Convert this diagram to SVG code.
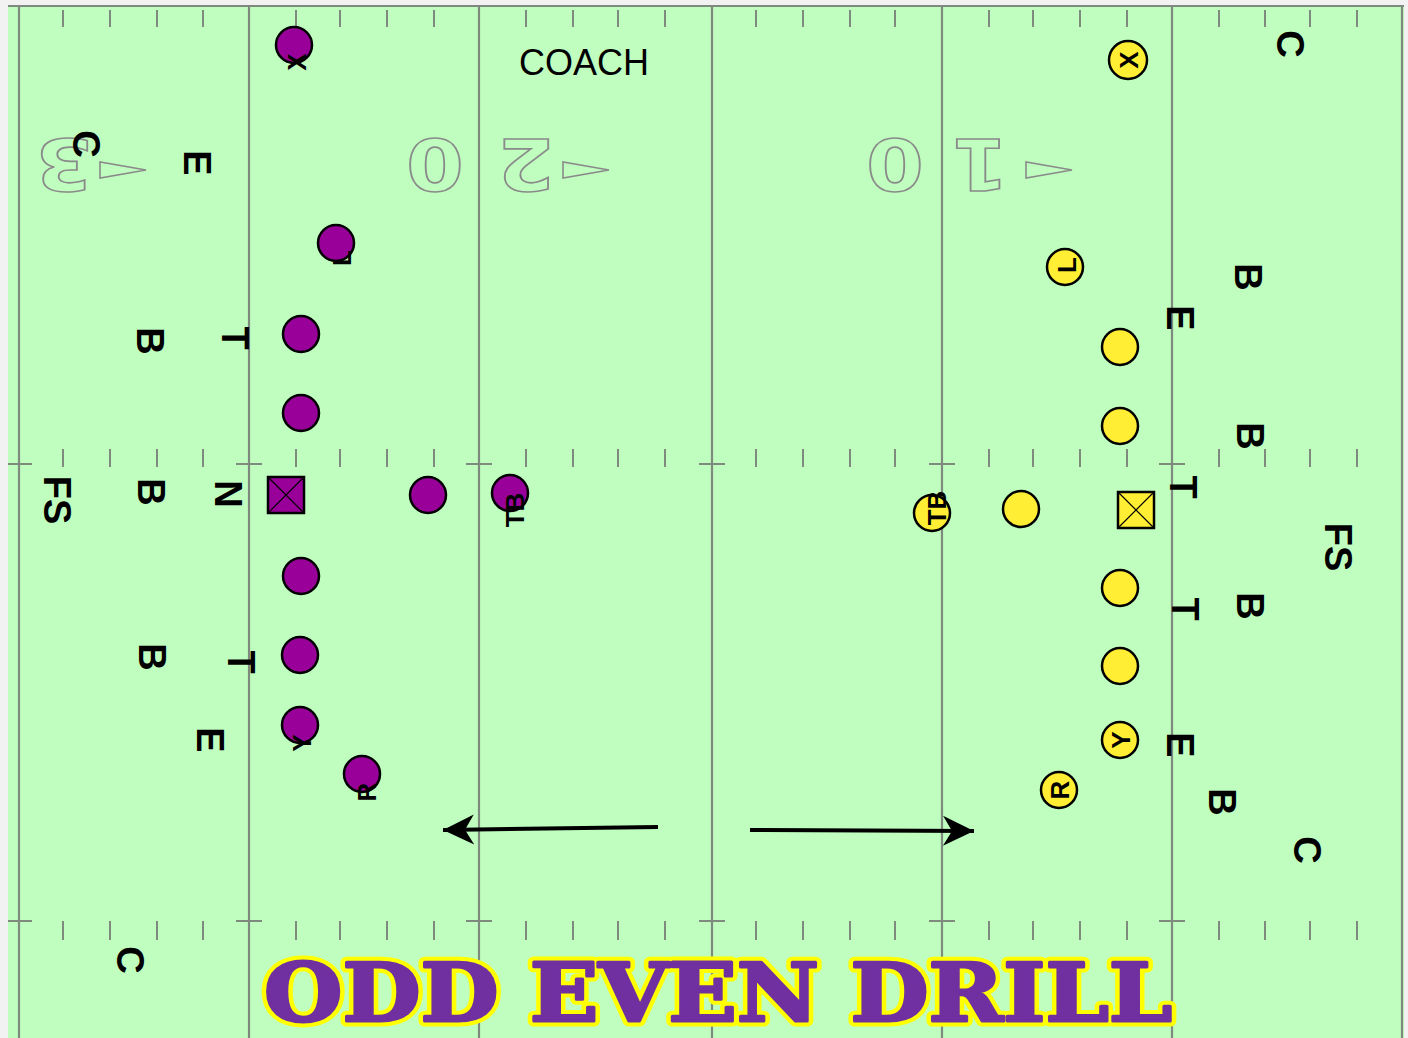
<svg xmlns="http://www.w3.org/2000/svg" width="1408" height="1038" viewBox="0 0 1408 1038">
<defs>
<style>
.yl{stroke:#7f8a7f;stroke-width:2.2;fill:none}
.tk{stroke:#7f8a7f;stroke-width:2;fill:none}
.num{font-family:"DejaVu Sans",sans-serif;font-weight:bold;font-size:72px;fill:none;stroke:#8a8a8a;stroke-width:1.6}
.tri{fill:none;stroke:#8a8a8a;stroke-width:1.6}
.d{font-family:"Liberation Sans",Arial,sans-serif;font-weight:bold;font-size:38px;fill:#000}
.pl{font-family:"Liberation Sans",Arial,sans-serif;font-weight:bold;font-size:26px;fill:#000}
.pc{fill:#990099;stroke:#000;stroke-width:2.5}
.yc{fill:#ffee33;stroke:#000;stroke-width:2.5}
.xl{stroke:#000;stroke-width:1.2}
.arr{stroke:#000;stroke-width:4;fill:none}
.ttl{font-family:"DejaVu Serif",serif;font-weight:bold;font-size:80px}
</style>
<marker id="ah" viewBox="0 0 34 32" refX="32" refY="16" markerWidth="34" markerHeight="32" markerUnits="userSpaceOnUse" orient="auto">
<path d="M32,16 L1,1 L10,16 L1,31 Z" fill="#000"/>
</marker>
</defs>

<g id="field">
<rect x="0" y="0" width="1408" height="1038" fill="#f2f2f2"/>
<rect x="8" y="5" width="1396" height="1033" fill="#c0fec0"/>
<line class="yl" x1="8" y1="6" x2="1404" y2="6"/>
<g class="yl">
<line x1="19" y1="6" x2="19" y2="1038"/>
<line x1="249" y1="6" x2="249" y2="1038"/>
<line x1="479" y1="6" x2="479" y2="1038"/>
<line x1="712" y1="6" x2="712" y2="1038"/>
<line x1="942" y1="6" x2="942" y2="1038"/>
<line x1="1172" y1="6" x2="1172" y2="1038"/>
<line x1="1402" y1="6" x2="1402" y2="1038"/>
</g>
<path class="tk" d="M63,10V27M110,10V27M157,10V27M203,10V27M296,10V27M340,10V27M387,10V27M434,10V27M526,10V27M573,10V27M618,10V27M665,10V27M756,10V27M803,10V27M850,10V27M895,10V27M989,10V27M1033,10V27M1080,10V27M1127,10V27M1219,10V27M1265,10V27M1310,10V27M1357,10V27"/>
<path class="tk" d="M63,449V467M110,449V467M157,449V467M203,449V467M296,449V467M340,449V467M387,449V467M434,449V467M526,449V467M573,449V467M618,449V467M665,449V467M756,449V467M803,449V467M850,449V467M895,449V467M989,449V467M1033,449V467M1080,449V467M1127,449V467M1219,449V467M1265,449V467M1310,449V467M1357,449V467"/>
<path class="tk" d="M8,464H32M236,464H262M466,464H492M699,464H725M929,464H955M1159,464H1185"/>
<path class="tk" d="M63,921V940M110,921V940M157,921V940M203,921V940M296,921V940M340,921V940M387,921V940M434,921V940M526,921V940M573,921V940M618,921V940M665,921V940M756,921V940M803,921V940M850,921V940M895,921V940M989,921V940M1033,921V940M1080,921V940M1127,921V940M1219,921V940M1265,921V940M1310,921V940M1357,921V940"/>
<path class="tk" d="M8,921H32M236,921H262M466,921H492M699,921H725M929,921H955M1159,921H1185"/>
</g>

<g id="yard-numbers">
<text class="num" text-anchor="middle" dominant-baseline="central" transform="translate(64,164) rotate(180) scale(1.15,1)">3</text>
<text class="num" text-anchor="middle" dominant-baseline="central" transform="translate(435,164) rotate(180) scale(1.15,1)">0</text>
<text class="num" text-anchor="middle" dominant-baseline="central" transform="translate(526,164) rotate(180) scale(1.15,1)">2</text>
<text class="num" text-anchor="middle" dominant-baseline="central" transform="translate(895,164) rotate(180) scale(1.15,1)">0</text>
<text class="num" text-anchor="middle" dominant-baseline="central" transform="translate(980,164) rotate(180) scale(1.15,1)">1</text>
<polygon class="tri" points="100,162 100,178 146,170"/>
<polygon class="tri" points="563,162 563,178 609,170"/>
<polygon class="tri" points="1026,162 1026,178 1072,170"/>
</g>

<g id="coach"><text x="584" y="75" text-anchor="middle" font-family="Liberation Sans, Arial, sans-serif" font-size="36" fill="#000">COACH</text></g>

<g id="defense-left">
<text class="d" x="86" y="144" text-anchor="middle" dominant-baseline="central" transform="rotate(90 86 144)">C</text>
<text class="d" x="197" y="163" text-anchor="middle" dominant-baseline="central" transform="rotate(90 197 163)">E</text>
<text class="d" x="150" y="341" text-anchor="middle" dominant-baseline="central" transform="rotate(90 150 341)">B</text>
<text class="d" x="235" y="338" text-anchor="middle" dominant-baseline="central" transform="rotate(90 235 338)">T</text>
<text class="d" x="57" y="500" text-anchor="middle" dominant-baseline="central" transform="rotate(90 57 500)">FS</text>
<text class="d" x="151" y="492" text-anchor="middle" dominant-baseline="central" transform="rotate(90 151 492)">B</text>
<text class="d" x="228" y="494" text-anchor="middle" dominant-baseline="central" transform="rotate(90 228 494)">N</text>
<text class="d" x="152" y="657" text-anchor="middle" dominant-baseline="central" transform="rotate(90 152 657)">B</text>
<text class="d" x="241" y="662" text-anchor="middle" dominant-baseline="central" transform="rotate(90 241 662)">T</text>
<text class="d" x="210" y="740" text-anchor="middle" dominant-baseline="central" transform="rotate(90 210 740)">E</text>
<text class="d" x="130" y="960" text-anchor="middle" dominant-baseline="central" transform="rotate(90 130 960)">C</text>
</g>

<g id="defense-right">
<text class="d" x="1290" y="44" text-anchor="middle" dominant-baseline="central" transform="rotate(90 1290 44)">C</text>
<text class="d" x="1248" y="277" text-anchor="middle" dominant-baseline="central" transform="rotate(90 1248 277)">B</text>
<text class="d" x="1180" y="318" text-anchor="middle" dominant-baseline="central" transform="rotate(90 1180 318)">E</text>
<text class="d" x="1250" y="436" text-anchor="middle" dominant-baseline="central" transform="rotate(90 1250 436)">B</text>
<text class="d" x="1183" y="487" text-anchor="middle" dominant-baseline="central" transform="rotate(90 1183 487)">T</text>
<text class="d" x="1338" y="547" text-anchor="middle" dominant-baseline="central" transform="rotate(90 1338 547)">FS</text>
<text class="d" x="1250" y="606" text-anchor="middle" dominant-baseline="central" transform="rotate(90 1250 606)">B</text>
<text class="d" x="1185" y="609" text-anchor="middle" dominant-baseline="central" transform="rotate(90 1185 609)">T</text>
<text class="d" x="1180" y="745" text-anchor="middle" dominant-baseline="central" transform="rotate(90 1180 745)">E</text>
<text class="d" x="1222" y="802" text-anchor="middle" dominant-baseline="central" transform="rotate(90 1222 802)">B</text>
<text class="d" x="1307" y="850" text-anchor="middle" dominant-baseline="central" transform="rotate(90 1307 850)">C</text>
</g>

<g id="purple-team">
<g id="p-x"><circle class="pc" cx="294" cy="45" r="18"/><text class="pl" x="297" y="62" text-anchor="middle" dominant-baseline="central" transform="rotate(-90 297 62)">X</text></g>
<g id="p-l"><circle class="pc" cx="336" cy="243" r="18"/><text class="pl" x="342" y="258" text-anchor="middle" dominant-baseline="central" transform="rotate(-90 342 258)">L</text></g>
<g id="p-lt"><circle class="pc" cx="301" cy="334" r="18"/></g>
<g id="p-lg"><circle class="pc" cx="301" cy="413" r="18"/></g>
<g id="p-c"><rect class="pc" x="268" y="477" width="36" height="36"/><path class="xl" d="M268,477L304,513M304,477L268,513"/></g>
<g id="p-qb"><circle class="pc" cx="428" cy="495" r="18"/></g>
<g id="p-tb"><circle class="pc" cx="510" cy="493" r="18"/><text class="pl" x="515" y="510" text-anchor="middle" dominant-baseline="central" transform="rotate(-90 515 510)">TB</text></g>
<g id="p-rg"><circle class="pc" cx="301" cy="576" r="18"/></g>
<g id="p-rt"><circle class="pc" cx="300" cy="655" r="18"/></g>
<g id="p-y"><circle class="pc" cx="300" cy="725" r="18"/><text class="pl" x="302" y="743" text-anchor="middle" dominant-baseline="central" transform="rotate(-90 302 743)">Y</text></g>
<g id="p-r"><circle class="pc" cx="362" cy="774" r="18"/><text class="pl" x="367" y="792" text-anchor="middle" dominant-baseline="central" transform="rotate(-90 367 792)">R</text></g>
</g>

<g id="yellow-team">
<g id="y-x"><circle class="yc" cx="1128" cy="60" r="19"/><text class="pl" x="1129" y="60" text-anchor="middle" dominant-baseline="central" transform="rotate(-90 1129 60)">X</text></g>
<g id="y-l"><circle class="yc" cx="1065" cy="267" r="18"/><text class="pl" x="1067" y="265" text-anchor="middle" dominant-baseline="central" transform="rotate(-90 1067 265)">L</text></g>
<g id="y-lt"><circle class="yc" cx="1120" cy="347" r="18"/></g>
<g id="y-lg"><circle class="yc" cx="1120" cy="426" r="18"/></g>
<g id="y-c"><rect class="yc" x="1118" y="492" width="36" height="36"/><path class="xl" d="M1118,492L1154,528M1154,492L1118,528"/></g>
<g id="y-qb"><circle class="yc" cx="1021" cy="509" r="18"/></g>
<g id="y-tb"><circle class="yc" cx="932" cy="513" r="18"/><text class="pl" x="937" y="508" text-anchor="middle" dominant-baseline="central" transform="rotate(-90 937 508)">TB</text></g>
<g id="y-rg"><circle class="yc" cx="1120" cy="588" r="18"/></g>
<g id="y-rt"><circle class="yc" cx="1120" cy="666" r="18"/></g>
<g id="y-y"><circle class="yc" cx="1120" cy="740" r="18"/><text class="pl" x="1121" y="740" text-anchor="middle" dominant-baseline="central" transform="rotate(-90 1121 740)">Y</text></g>
<g id="y-r"><circle class="yc" cx="1059" cy="790" r="18"/><text class="pl" x="1060" y="790" text-anchor="middle" dominant-baseline="central" transform="rotate(-90 1060 790)">R</text></g>
</g>

<g id="connectors">
<line class="arr" x1="658" y1="827" x2="443" y2="830" marker-end="url(#ah)"/>
<line class="arr" x1="750" y1="830" x2="974" y2="831" marker-end="url(#ah)"/>
</g>

<g id="title">
<text class="ttl" x="718" y="1021" text-anchor="middle" textLength="908" lengthAdjust="spacingAndGlyphs" fill="#7030a0" stroke="#ffff00" stroke-width="11" stroke-linejoin="round">ODD EVEN DRILL</text>
<text class="ttl" x="718" y="1021" text-anchor="middle" textLength="908" lengthAdjust="spacingAndGlyphs" fill="#7030a0" stroke="#7030a0" stroke-width="3" stroke-linejoin="round">ODD EVEN DRILL</text>
</g>
</svg>
